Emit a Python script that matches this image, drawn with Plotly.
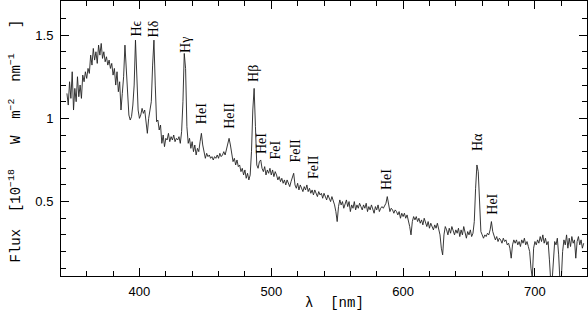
import numpy as np
import plotly.graph_objects as go

# wavelength grid (nm), 1 nm sampling starting at 345 nm
wl_start = 345
flux = [
    # 345-354
    1.15, 1.08, 1.22, 1.12, 1.28, 1.05, 1.18, 1.10, 1.25, 1.13,
    # 355-364
    1.20, 1.12, 1.26, 1.22, 1.28, 1.24, 1.30, 1.27, 1.38, 1.32,
    # 365-374
    1.42, 1.35, 1.40, 1.33, 1.44, 1.38, 1.45, 1.36, 1.40, 1.34,
    # 375-384
    1.37, 1.32, 1.35, 1.30, 1.33, 1.26, 1.30, 1.20, 1.28, 1.16,
    # 385-394
    1.22, 1.05, 1.15, 1.25, 1.44, 1.30, 1.10, 1.02, 0.99, 1.01,
    # 395-404
    1.08, 1.20, 1.47, 1.30, 1.05, 1.00, 1.02, 1.06, 1.03, 1.05,
    # 405-414
    0.97, 0.91, 1.00, 1.04, 1.10, 1.32, 1.47, 1.20, 0.98, 0.99,
    # 415-424
    0.93, 0.96, 0.85, 0.90, 0.83, 0.88, 0.87, 0.91, 0.86, 0.89,
    # 425-434
    0.87, 0.90, 0.86, 0.88, 0.87, 0.89, 0.85, 0.92, 1.10, 1.39,
    # 435-444
    1.30, 0.95, 0.85, 0.88, 0.82, 0.86, 0.80, 0.84, 0.78, 0.82,
    # 445-454
    0.80, 0.86, 0.91, 0.84, 0.80, 0.76, 0.79, 0.77, 0.78, 0.76,
    # 455-464
    0.77, 0.75, 0.77, 0.76, 0.78, 0.76, 0.79, 0.77, 0.78, 0.80,
    # 465-474
    0.78, 0.82, 0.86, 0.88, 0.84, 0.77, 0.74, 0.76, 0.72, 0.75,
    # 475-484
    0.71, 0.72, 0.68, 0.70, 0.66, 0.69, 0.64, 0.67, 0.63, 0.66,
    # 485-494
    0.80, 1.05, 1.18, 0.95, 0.72, 0.70, 0.74, 0.75, 0.70, 0.68,
    # 495-504
    0.71, 0.66, 0.69, 0.67, 0.70, 0.66, 0.69, 0.65, 0.68, 0.66,
    # 505-514
    0.63, 0.65, 0.62, 0.64, 0.61, 0.63, 0.60, 0.63, 0.61, 0.59,
    # 515-524
    0.62, 0.64, 0.67, 0.60, 0.58, 0.61, 0.57, 0.60, 0.58, 0.56,
    # 525-534
    0.59, 0.57, 0.60, 0.56, 0.58, 0.55, 0.57, 0.54, 0.57, 0.55,
    # 535-544
    0.53, 0.56, 0.54, 0.55, 0.52, 0.55, 0.53, 0.51, 0.54, 0.52,
    # 545-554
    0.50, 0.53, 0.51, 0.48, 0.44, 0.38, 0.47, 0.51, 0.48, 0.50,
    # 555-564
    0.46, 0.49, 0.51, 0.47, 0.50, 0.44, 0.48, 0.46, 0.50, 0.45,
    # 565-574
    0.48, 0.46, 0.49, 0.47, 0.45, 0.48, 0.46, 0.49, 0.44, 0.47,
    # 575-584
    0.45, 0.48, 0.46, 0.43, 0.47, 0.45, 0.48, 0.44, 0.46, 0.47,
    # 585-594
    0.46, 0.48, 0.49, 0.53, 0.48, 0.44, 0.46, 0.45, 0.43, 0.45,
    # 595-604
    0.44, 0.42, 0.44, 0.40, 0.43, 0.41, 0.43, 0.40, 0.42, 0.39,
    # 605-614
    0.35, 0.30, 0.38, 0.41, 0.39, 0.41, 0.38, 0.40, 0.37, 0.39,
    # 615-624
    0.36, 0.40, 0.37, 0.35, 0.38, 0.34, 0.37, 0.35, 0.33, 0.36,
    # 625-634
    0.34, 0.37, 0.33, 0.30, 0.22, 0.18, 0.30, 0.35, 0.33, 0.30,
    # 635-644
    0.34, 0.31, 0.35, 0.32, 0.30, 0.33, 0.31, 0.34, 0.29, 0.33,
    # 645-654
    0.30, 0.35, 0.31, 0.28, 0.32, 0.30, 0.33, 0.29, 0.31, 0.38,
    # 655-664
    0.58, 0.72, 0.68, 0.45, 0.32, 0.30, 0.28, 0.30, 0.29, 0.31,
    # 665-674
    0.30, 0.33, 0.38, 0.32, 0.29, 0.27, 0.29, 0.26, 0.28, 0.27,
    # 675-684
    0.25, 0.28, 0.26, 0.27, 0.24, 0.25, 0.22, 0.16, 0.24, 0.27,
    # 685-694
    0.25, 0.27, 0.24, 0.26, 0.23, 0.27, 0.25, 0.28, 0.24, 0.26,
    # 695-704
    0.23, 0.20, 0.10, 0.04, 0.22, 0.26, 0.24, 0.27, 0.25, 0.29,
    # 705-714
    0.26, 0.30, 0.25, 0.28, 0.24, 0.26, 0.15, 0.02, 0.02, 0.15,
    # 715-724
    0.26, 0.24, 0.28, 0.18, 0.02, 0.03, 0.20, 0.27, 0.24, 0.30,
    # 725-734
    0.22, 0.28, 0.23, 0.29, 0.25, 0.27, 0.16, 0.26, 0.29, 0.24,
    # 735-737
    0.27, 0.22, 0.25,
]
wavelength = np.arange(wl_start, wl_start + len(flux))

# line identifications: label, wavelength position, flux position of label centre
line_labels = ["H\u03f5", "H\u03b4", "H\u03b3", "HeI", "HeII", "H\u03b2", "HeI", "FeI",
               "FeII", "FeII", "HeI", "H\u03b1", "HeI"]
line_wl = [397.5, 411.0, 434.4, 447.3, 468.8, 486.5, 492.8, 502.9, 518.1, 531.9, 587.5, 656.1, 667.8]
line_fy = [1.54, 1.54, 1.44, 1.03, 1.016, 1.27, 0.85, 0.807, 0.807, 0.71, 0.633, 0.858, 0.484]

x_ticks = [400, 500, 600, 700]
y_ticks = [0.5, 1, 1.5]
y_ticktext = ["0.5", "1", "1.5"]

fig = go.Figure()
fig.add_trace(go.Scatter(x=wavelength, y=flux, mode="lines",
                         line=dict(color="#222222", width=0.9), showlegend=False))

for lab, xw, yf in zip(line_labels, line_wl, line_fy):
    fig.add_annotation(x=xw, y=yf, xref="x", yref="y", text=lab, showarrow=False,
                       textangle=-90, font=dict(family="Liberation Serif", size=14, color="black"))

axis_common = dict(showline=True, linecolor="black", linewidth=1, mirror="ticks",
                   ticks="inside", ticklen=8, tickwidth=1, tickcolor="black",
                   showgrid=False, zeroline=False,
                   tickfont=dict(family="Liberation Sans", size=13, color="black"))

fig.update_xaxes(range=[340.5, 739.5], tickvals=x_ticks,
                 minor=dict(dtick=20, ticks="inside", ticklen=5, tickcolor="black", tickwidth=1, showgrid=False),
                 ticklabelstandoff=3, **axis_common)
fig.update_yaxes(range=[0.053, 1.705], tickvals=y_ticks, ticktext=y_ticktext,
                 minor=dict(dtick=0.1, tick0=0, ticks="inside", ticklen=5, tickcolor="black", tickwidth=1, showgrid=False),
                 ticklabelstandoff=4, **axis_common)

fig.add_annotation(x=0.0, y=0.5, xref="paper", yref="paper", xshift=-57, yshift=-3, showarrow=False,
                   text="Flux  [10<sup>\u221218</sup>   W  m<sup>\u22122</sup>  nm<sup>\u22121</sup>   ]",
                   textangle=-90, font=dict(family="Liberation Mono", size=14, color="black"))
fig.add_annotation(x=0.52, y=0.0, xref="paper", yref="paper", yshift=-37, showarrow=False,
                   text="\u03bb  [nm]", font=dict(family="Liberation Mono", size=14, color="black"))

fig.update_layout(width=588, height=319, margin=dict(l=61, r=1, t=1, b=43),
                  plot_bgcolor="white", paper_bgcolor="white")

fig.write_html("out.html", config={"displayModeBar": False},
               post_script="document.body.style.margin='0';document.body.style.padding='0';")
